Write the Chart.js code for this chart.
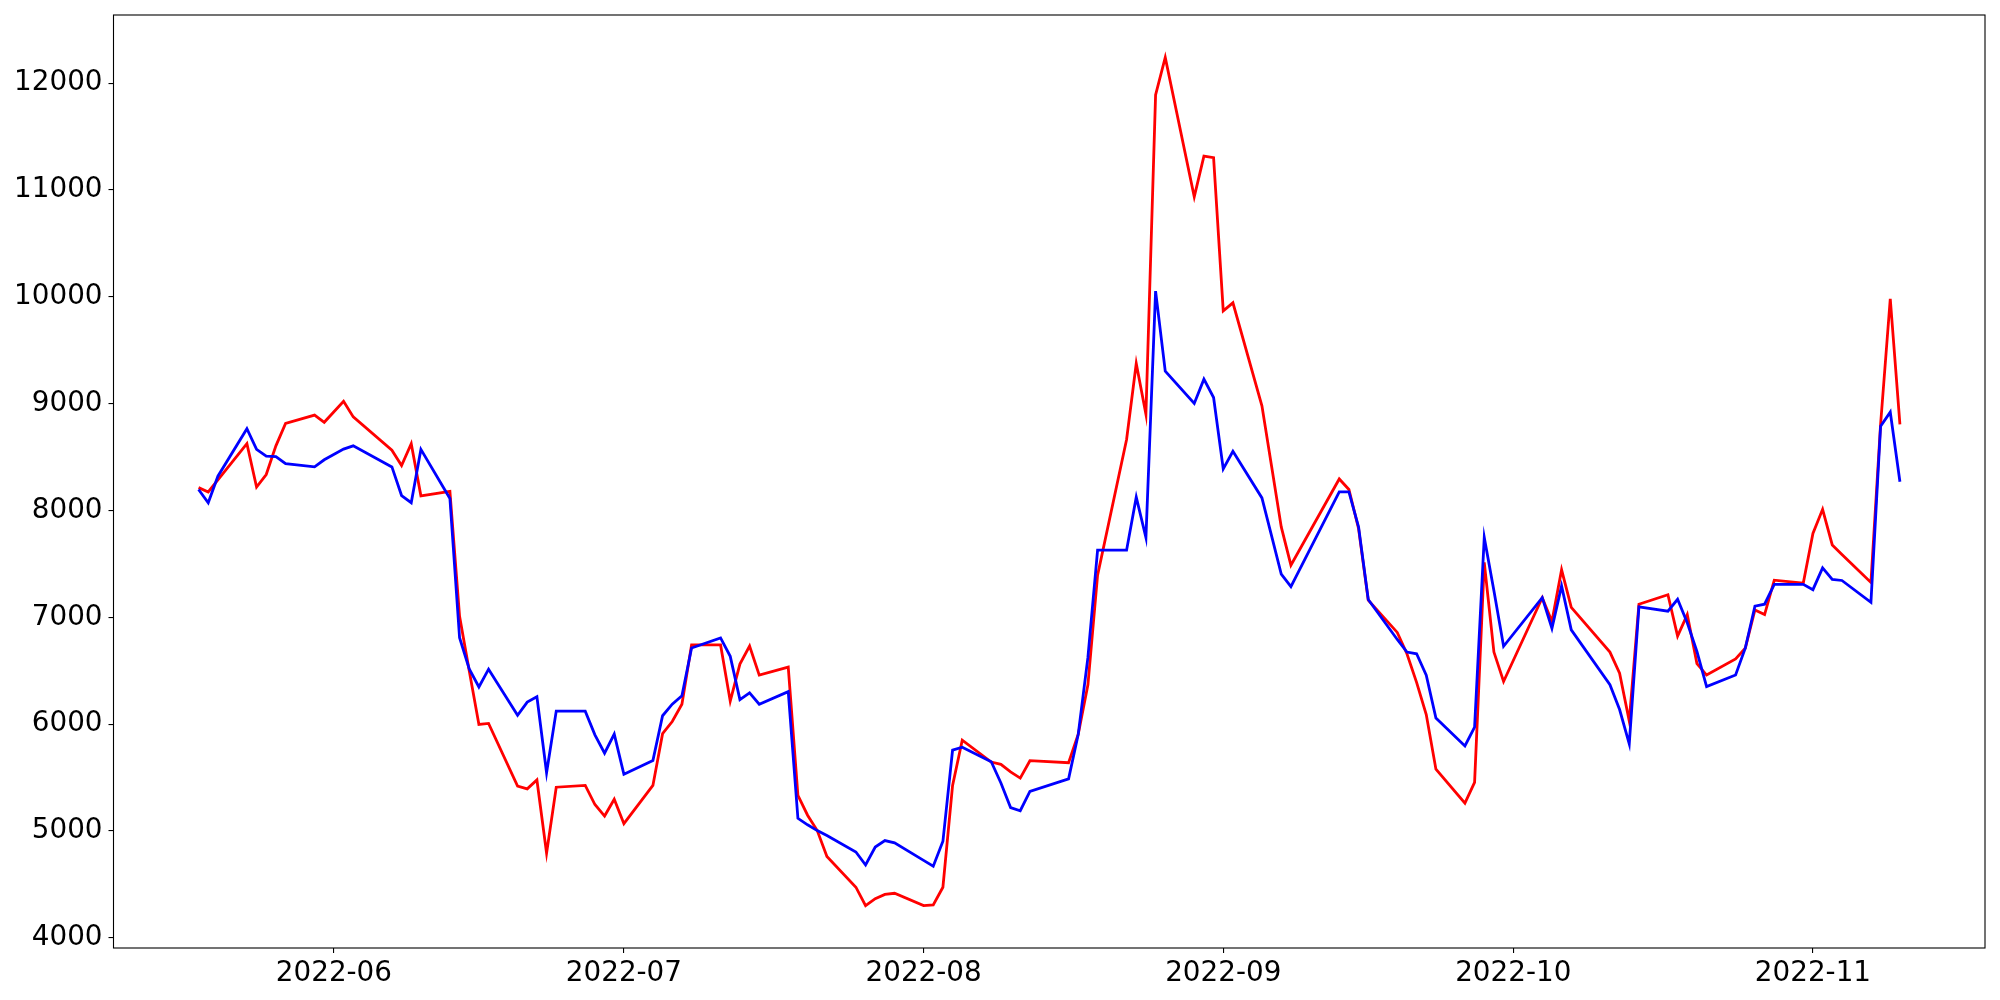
<!DOCTYPE html>
<html>
<head>
<meta charset="utf-8">
<script src="https://cdn.jsdelivr.net/npm/chart.js@4/dist/chart.umd.min.js"></script>
<style>
	body { margin: 0; background: #fff; }
	#wrap { width: 2000px; height: 1000px; }
</style>
</head>
<body>
<div id="wrap"><canvas id="line_chart" width="2000" height="1000"></canvas></div>
<script>
// trading days
const dates = [
	'2022-05-18','2022-05-19','2022-05-20','2022-05-23','2022-05-24','2022-05-25','2022-05-26','2022-05-27',
	'2022-05-30','2022-05-31','2022-06-02','2022-06-03','2022-06-07','2022-06-08','2022-06-09','2022-06-10',
	'2022-06-13','2022-06-14','2022-06-15','2022-06-16','2022-06-17','2022-06-20','2022-06-21','2022-06-22',
	'2022-06-23','2022-06-24','2022-06-27','2022-06-28','2022-06-29','2022-06-30','2022-07-01','2022-07-04',
	'2022-07-05','2022-07-06','2022-07-07','2022-07-08','2022-07-11','2022-07-12','2022-07-13','2022-07-14',
	'2022-07-15','2022-07-18','2022-07-19','2022-07-20','2022-07-21','2022-07-22','2022-07-25','2022-07-26',
	'2022-07-27','2022-07-28','2022-07-29','2022-08-01','2022-08-02','2022-08-03','2022-08-04','2022-08-05',
	'2022-08-08','2022-08-09','2022-08-10','2022-08-11','2022-08-12','2022-08-16','2022-08-17','2022-08-18',
	'2022-08-19','2022-08-22','2022-08-23','2022-08-24','2022-08-25','2022-08-26','2022-08-29','2022-08-30',
	'2022-08-31','2022-09-01','2022-09-02','2022-09-05','2022-09-06','2022-09-07','2022-09-08','2022-09-13',
	'2022-09-14','2022-09-15','2022-09-16','2022-09-19','2022-09-20','2022-09-21','2022-09-22','2022-09-23',
	'2022-09-26','2022-09-27','2022-09-28','2022-09-29','2022-09-30','2022-10-04','2022-10-05','2022-10-06',
	'2022-10-07','2022-10-11','2022-10-12','2022-10-13','2022-10-14','2022-10-17','2022-10-18','2022-10-19',
	'2022-10-20','2022-10-21','2022-10-24','2022-10-25','2022-10-26','2022-10-27','2022-10-28','2022-10-31',
	'2022-11-01','2022-11-02','2022-11-03','2022-11-04','2022-11-07','2022-11-08','2022-11-09','2022-11-10'
];

const redValues = [
	8214, 8174, 8287, 8625, 8220, 8337, 8605, 8816,
	8893, 8826, 9023, 8876, 8565, 8421, 8625, 8137,
	8180, 7010, 6500, 5997, 6007, 5421, 5395, 5478,
	4793, 5410, 5427, 5248, 5140, 5298, 5069, 5427,
	5911, 6025, 6187, 6742, 6742, 6215, 6563, 6731,
	6459, 6534, 5334, 5148, 5004, 4761, 4474, 4302,
	4367, 4406, 4417, 4302, 4309, 4474, 5427, 5850,
	5646, 5624, 5553, 5495, 5658, 5639, 5906, 6368,
	7394, 8665, 9376, 8902, 11889, 12241, 10937, 11317,
	11302, 9869, 9944, 8980, 8414, 7846, 7488, 8295,
	8197, 7829, 7160, 6859, 6659, 6391, 6090, 5579,
	5261, 5455, 7515, 6675, 6399, 7184, 6961, 7445,
	7094, 6675, 6478, 6030, 7123, 7212, 6825, 7026,
	6567, 6460, 6610, 6711, 7069, 7026, 7348, 7320,
	7786, 8011, 7678, 7589, 7327, 8807, 9982, 8807
];

const blueValues = [
	8197, 8073, 8321, 8766, 8572, 8508, 8505, 8438,
	8408, 8475, 8575, 8605, 8408, 8140, 8073, 8572,
	8113, 6809, 6518, 6348, 6515, 6084, 6207, 6257,
	5545, 6122, 6122, 5900, 5728, 5907, 5531, 5660,
	6079, 6187, 6266, 6713, 6807, 6635, 6230, 6294,
	6187, 6305, 5119, 5058, 5004, 4958, 4804, 4682,
	4850, 4911, 4890, 4725, 4671, 4904, 5757, 5785,
	5649, 5450, 5220, 5190, 5370, 5488, 5906, 6625,
	7629, 7629, 8125, 7746, 10053, 9304, 9002, 9229,
	9058, 8389, 8555, 8118, 7762, 7405, 7287, 8174,
	8174, 7846, 7167, 6793, 6675, 6659, 6458, 6057,
	5796, 5973, 7748, 7248, 6729, 7184, 6897, 7295,
	6883, 6370, 6137, 5815, 7098, 7058, 7169, 6950,
	6680, 6352, 6460, 6711, 7105, 7123, 7309, 7309,
	7259, 7463, 7356, 7345, 7141, 8789, 8921, 8269
];

// tick labels
const monthTicks = ['2022-06-01','2022-07-01','2022-08-01','2022-09-01','2022-10-01','2022-11-01'];
const yTicks = [4000, 5000, 6000, 7000, 8000, 9000, 10000, 11000, 12000];

const DAY = 86400000;
function toDay(s) { return Date.parse(s) / DAY; }

const days = dates.map(toDay);
const redPoints = days.map((d, i) => ({ x: d, y: redValues[i] }));
const bluePoints = days.map((d, i) => ({ x: d, y: blueValues[i] }));

// axis limits with 5% margin, like the original plot
const xSpan = days[days.length - 1] - days[0];
const allValues = redValues.concat(blueValues);
const yLo = Math.min(...allValues), yHi = Math.max(...allValues);
const ySpan = yHi - yLo;

const tickFont = { family: 'DejaVu Sans', size: 27.8 };

// frame round the plot area
const frame = {
	id: 'frame',
	afterDatasetsDraw(chart) {
		const a = chart.chartArea, c = chart.ctx;
		c.save();
		c.strokeStyle = '#000';
		c.lineWidth = 1.1;
		c.strokeRect(a.left, a.top, a.right - a.left, a.bottom - a.top);
		c.restore();
	}
};

const ctx = document.getElementById('line_chart').getContext('2d');
let my_chart = new Chart(ctx, {
	type: 'line',
	data: {
		datasets: [
		{
			data: redPoints,
			borderColor: '#ff0000',
			backgroundColor: '#ff0000',
			borderWidth: 2.8,
			pointRadius: 0,
			fill: false,
			order: 1,
		},
		{
			data: bluePoints,
			borderColor: '#0000ff',
			backgroundColor: '#0000ff',
			borderWidth: 2.8,
			pointRadius: 0,
			fill: false,
			order: 0,
		},
		],
	},
	options: {
		responsive: false,
		animation: false,
		layout: { padding: { top: 15, right: 15, left: 0, bottom: 0 } },
		plugins: { legend: { display: false }, tooltip: { enabled: false } },
		scales: {
			x: {
				type: 'linear',
				min: days[0] - xSpan * 0.05,
				max: days[days.length - 1] + xSpan * 0.05,
				border: { display: false },
				grid: { drawOnChartArea: false, color: '#000', tickLength: 5, lineWidth: 1.1 },
				afterBuildTicks(scale) {
					scale.ticks = monthTicks.map(s => ({ value: toDay(s) }));
				},
				afterFit(scale) {
					scale.height = 52;
					scale.paddingLeft = 0;
					scale.paddingRight = 0;
				},
				ticks: {
					color: '#000',
					font: tickFont,
					padding: 4,
					maxRotation: 0,
					autoSkip: false,
					callback(v) {
						const d = new Date(v * DAY);
						return d.getUTCFullYear() + '-' + String(d.getUTCMonth() + 1).padStart(2, '0');
					}
				}
			},
			y: {
				min: yLo - ySpan * 0.05,
				max: yHi + ySpan * 0.05,
				border: { display: false },
				grid: { drawOnChartArea: false, color: '#000', tickLength: 5, lineWidth: 1.1 },
				afterBuildTicks(scale) {
					scale.ticks = yTicks.map(v => ({ value: v }));
				},
				afterFit(scale) {
					scale.width = 113.5;
					scale.paddingTop = 0;
					scale.paddingBottom = 0;
				},
				ticks: {
					color: '#000',
					font: tickFont,
					padding: 6,
					autoSkip: false,
					callback(v) { return String(v); }
				}
			}
		}
	},
	plugins: [frame]
});
</script>
</body>
</html>
